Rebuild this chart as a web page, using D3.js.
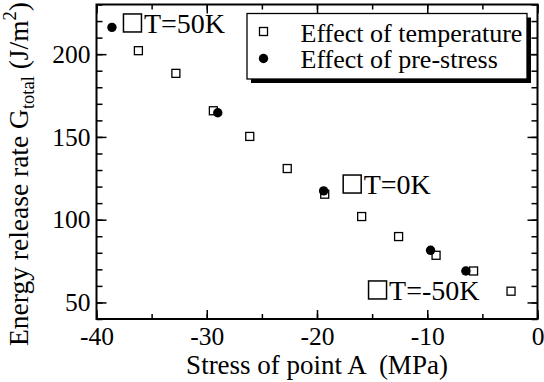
<!DOCTYPE html>
<html>
<head>
<meta charset="utf-8">
<script src="https://cdn.jsdelivr.net/npm/d3@7"></script>
<style>
  body { margin: 0; background: #fff; }
  .axis path { display: none; }
  .axis line { stroke: #000; stroke-width: 1.5; }
</style>
</head>
<body>
<svg id="chart" width="544" height="382"></svg>
<script>
// effect of temperature (open squares)
const tempStress = [-36.2, -32.8, -29.4, -26.1, -22.7, -19.3, -15.95, -12.6, -9.2, -5.8, -2.4];
const tempG      = [202.1, 188.4, 165.8, 150.3, 130.9, 115.4, 101.9, 89.8, 78.5, 69.0, 56.8];
// effect of pre-stress (filled circles)
const preStress = [-38.6, -29.0, -19.4, -9.7, -6.5];
const preG      = [216.2, 164.6, 117.4, 81.5, 69.0];

const xTicks = [-40, -30, -20, -10, 0];
const yTicks = [50, 100, 150, 200];
const legendLabels = ["Effect of temperature", "Effect of pre-stress"];
const noteLabels = ["T=50K", "T=0K", "T=-50K"];
const noteX = [-37.6, -17.67, -15.37];
const noteY = [212.8, 115.5, 51.5];

(function () {
  'use strict';
  const W = 544, H = 382;
  const FONT = "Liberation Serif, DejaVu Serif, serif";
  const m = {left: 96.5, right: 6.5, top: 4.5, bottom: 63};
  const svg = d3.select("#chart");

  const x = d3.scaleLinear().domain([-40, 0]).range([m.left, W - m.right]);
  const y = d3.scaleLinear().domain([40, 230]).range([H - m.bottom, m.top]);

  const x0 = m.left, x1 = W - m.right, y0 = H - m.bottom, y1 = m.top;
  const fmt = d => String(d);  // plain hyphen, like the original

  // minor ticks
  const xMinor = d3.range(-40, 0.1, 5), yMinor = d3.range(40, 230.1, 10);
  svg.append("g").attr("class", "axis").attr("transform", `translate(0,${y0})`)
    .call(d3.axisBottom(x).tickValues(xMinor).tickSize(-5).tickFormat(""));
  svg.append("g").attr("class", "axis").attr("transform", `translate(0,${y1})`)
    .call(d3.axisTop(x).tickValues(xMinor).tickSize(-5).tickFormat(""));
  svg.append("g").attr("class", "axis").attr("transform", `translate(${x0},0)`)
    .call(d3.axisLeft(y).tickValues(yMinor).tickSize(-6).tickFormat(""));
  svg.append("g").attr("class", "axis").attr("transform", `translate(${x1},0)`)
    .call(d3.axisRight(y).tickValues(yMinor).tickSize(-6).tickFormat(""));

  // major ticks + labels
  svg.append("g").attr("class", "axis").attr("transform", `translate(0,${y0})`)
    .call(d3.axisBottom(x).tickValues(xTicks).tickSize(-9).tickFormat(fmt))
    .selectAll("text").attr("dy", null).attr("y", 26);
  svg.append("g").attr("class", "axis").attr("transform", `translate(0,${y1})`)
    .call(d3.axisTop(x).tickValues(xTicks).tickSize(-9).tickFormat(""));
  svg.append("g").attr("class", "axis").attr("transform", `translate(${x0},0)`)
    .call(d3.axisLeft(y).tickValues(yTicks).tickSize(-10).tickFormat(fmt))
    .selectAll("text").attr("x", -6);
  svg.append("g").attr("class", "axis").attr("transform", `translate(${x1},0)`)
    .call(d3.axisRight(y).tickValues(yTicks).tickSize(-10).tickFormat(""));
  svg.selectAll(".axis").attr("font-family", FONT).attr("font-size", 25.5);

  // frame
  svg.append("rect").attr("x", x0).attr("y", y1).attr("width", x1 - x0).attr("height", y0 - y1)
    .attr("fill", "none").attr("stroke", "#000").attr("stroke-width", 2);

  // data
  const sq = 8;
  svg.append("g").selectAll("rect").data(d3.zip(tempStress, tempG)).join("rect")
    .attr("x", d => x(d[0]) - sq / 2).attr("y", d => y(d[1]) - sq / 2)
    .attr("width", sq).attr("height", sq)
    .attr("fill", "#fff").attr("stroke", "#000").attr("stroke-width", 1.3);
  svg.append("g").selectAll("circle").data(d3.zip(preStress, preG)).join("circle")
    .attr("cx", d => x(d[0])).attr("cy", d => y(d[1])).attr("r", 4.7).attr("fill", "#000");

  // annotations: big open square + label
  const notes = svg.append("g").attr("font-family", FONT).selectAll("g")
    .data(d3.zip(noteLabels, noteX, noteY)).join("g")
    .attr("transform", d => `translate(${x(d[1])},${y(d[2])})`);
  notes.append("rect").attr("x", 0.5).attr("y", -19).attr("width", 18).attr("height", 18)
    .attr("fill", "none").attr("stroke", "#000").attr("stroke-width", 1.5);
  notes.append("text").attr("x", 21).attr("y", 0).attr("font-size", 28).text(d => d[0]);

  // legend
  const lg = svg.append("g").attr("font-family", FONT).attr("transform", "translate(247,13.5)");
  lg.append("rect").attr("x", 4).attr("y", 4).attr("width", 280).attr("height", 65.5).attr("fill", "#000");
  lg.append("rect").attr("x", 0).attr("y", 0).attr("width", 280).attr("height", 65.5)
    .attr("fill", "#fff").attr("stroke", "#000").attr("stroke-width", 1.3);
  lg.append("rect").attr("x", 16.5 - sq / 2).attr("y", 18 - sq / 2).attr("width", sq).attr("height", sq)
    .attr("fill", "#fff").attr("stroke", "#000").attr("stroke-width", 1.3);
  lg.append("circle").attr("cx", 16.5).attr("cy", 45).attr("r", 4.7).attr("fill", "#000");
  lg.selectAll("text.l").data(legendLabels).join("text").attr("class", "l")
    .attr("x", 53.5).attr("y", (d, i) => 28 + i * 26.5).attr("font-size", 26).text(d => d);

  // axis titles
  svg.append("text").attr("font-family", FONT).attr("x", (x0 + x1) / 2).attr("y", 374)
    .attr("text-anchor", "middle").attr("font-size", 27)
    .style("white-space", "pre").text("Stress of point A  (MPa)");
  const yt = svg.append("text").attr("font-family", FONT).attr("transform", "translate(28,174) rotate(-90)")
    .attr("text-anchor", "middle").attr("font-size", 27.5);
  yt.append("tspan").text("Energy release rate G");
  yt.append("tspan").attr("font-size", 18.5).attr("dy", 6).text("total");
  yt.append("tspan").attr("dy", -6).text(" (J/m");
  yt.append("tspan").attr("font-size", 18.5).attr("dy", -12).text("2");
  yt.append("tspan").attr("dy", 12).text(")");
}());
</script>
</body>
</html>
